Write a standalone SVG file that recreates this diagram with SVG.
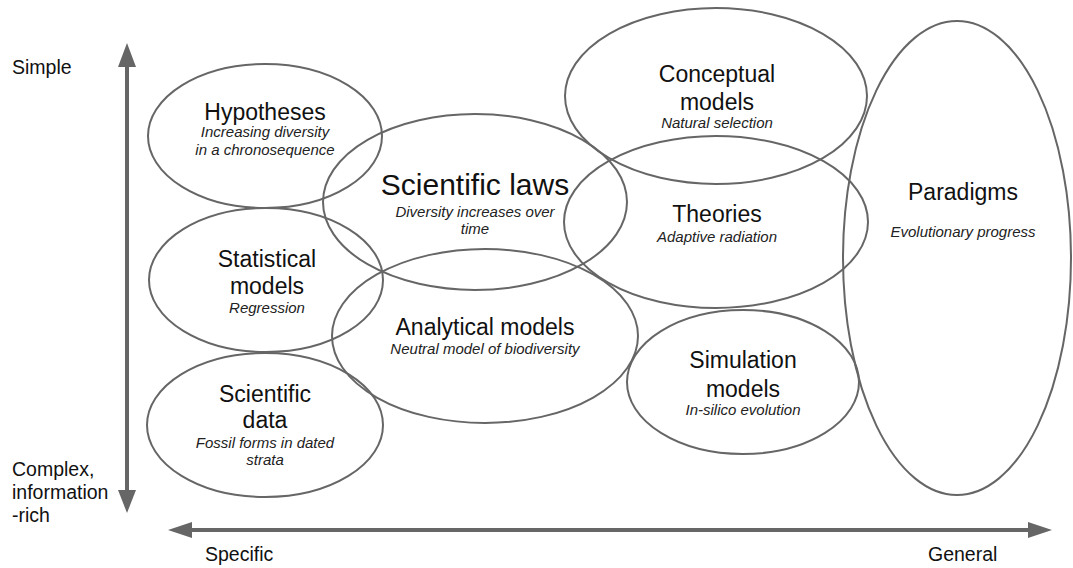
<svg xmlns="http://www.w3.org/2000/svg" width="1073" height="568" viewBox="0 0 1073 568">
<style>
.e{fill:none;stroke:#666;stroke-width:2}
.t{font-family:"Liberation Sans",Arial,sans-serif;font-size:23px;fill:#111;text-anchor:middle}
.big{font-size:30px}
.i{font-family:"Liberation Sans",Arial,sans-serif;font-size:15px;font-style:italic;fill:#222;text-anchor:middle}
.ax{font-family:"Liberation Sans",Arial,sans-serif;font-size:19.5px;fill:#111}
.ar{stroke:#666;stroke-width:4;fill:none}
.ah{fill:#666}
</style>
<rect width="1073" height="568" fill="#fff"/>
<g id="connectors">
<line class="ar" x1="127" y1="64" x2="127" y2="493"/>
<polygon class="ah" points="127,43 118,67 136,67"/>
<polygon class="ah" points="127,513 118,490 136,490"/>
<line class="ar" x1="190" y1="530" x2="1030" y2="530"/>
<polygon class="ah" points="168,530 192,522 192,538"/>
<polygon class="ah" points="1052,530 1028,522 1028,538"/>
</g>
<g id="axis-labels">
<text class="ax" x="12" y="74">Simple</text>
<text class="ax" x="12" y="476">Complex,</text>
<text class="ax" x="12" y="499">information</text>
<text class="ax" x="12" y="522">-rich</text>
<text class="ax" x="205" y="561">Specific</text>
<text class="ax" x="928" y="561">General</text>
</g>
<g id="hypotheses">
<ellipse class="e" cx="265" cy="136" rx="117" ry="72"/>
<text class="t" x="265" y="120">Hypotheses</text>
<text class="i" x="265" y="137">Increasing diversity</text>
<text class="i" x="265" y="155">in a chronosequence</text>
</g>
<g id="scientific-laws">
<ellipse class="e" cx="475" cy="202" rx="152" ry="88"/>
<text class="t big" x="475" y="195">Scientific laws</text>
<text class="i" x="475" y="217">Diversity increases over</text>
<text class="i" x="475" y="234">time</text>
</g>
<g id="conceptual-models">
<ellipse class="e" cx="716" cy="96" rx="151" ry="88"/>
<text class="t" x="717" y="82">Conceptual</text>
<text class="t" x="717" y="110">models</text>
<text class="i" x="717" y="128">Natural selection</text>
</g>
<g id="theories">
<ellipse class="e" cx="716" cy="222" rx="152" ry="86"/>
<text class="t" x="717" y="222">Theories</text>
<text class="i" x="717" y="242">Adaptive radiation</text>
</g>
<g id="paradigms">
<ellipse class="e" cx="957" cy="258" rx="114" ry="237"/>
<text class="t" x="963" y="200">Paradigms</text>
<text class="i" x="963" y="237">Evolutionary progress</text>
</g>
<g id="statistical-models">
<ellipse class="e" cx="266" cy="280" rx="117" ry="72"/>
<text class="t" x="267" y="267">Statistical</text>
<text class="t" x="267" y="294">models</text>
<text class="i" x="267" y="313">Regression</text>
</g>
<g id="analytical-models">
<ellipse class="e" cx="485" cy="336" rx="153" ry="87"/>
<text class="t" x="485" y="335">Analytical models</text>
<text class="i" x="485" y="354">Neutral model of biodiversity</text>
</g>
<g id="scientific-data">
<ellipse class="e" cx="265" cy="425" rx="118" ry="72"/>
<text class="t" x="265" y="402">Scientific</text>
<text class="t" x="265" y="428">data</text>
<text class="i" x="265" y="448">Fossil forms in dated</text>
<text class="i" x="265" y="465">strata</text>
</g>
<g id="simulation-models">
<ellipse class="e" cx="743" cy="382" rx="116" ry="72"/>
<text class="t" x="743" y="368">Simulation</text>
<text class="t" x="743" y="397">models</text>
<text class="i" x="743" y="415">In-silico evolution</text>
</g>
</svg>
